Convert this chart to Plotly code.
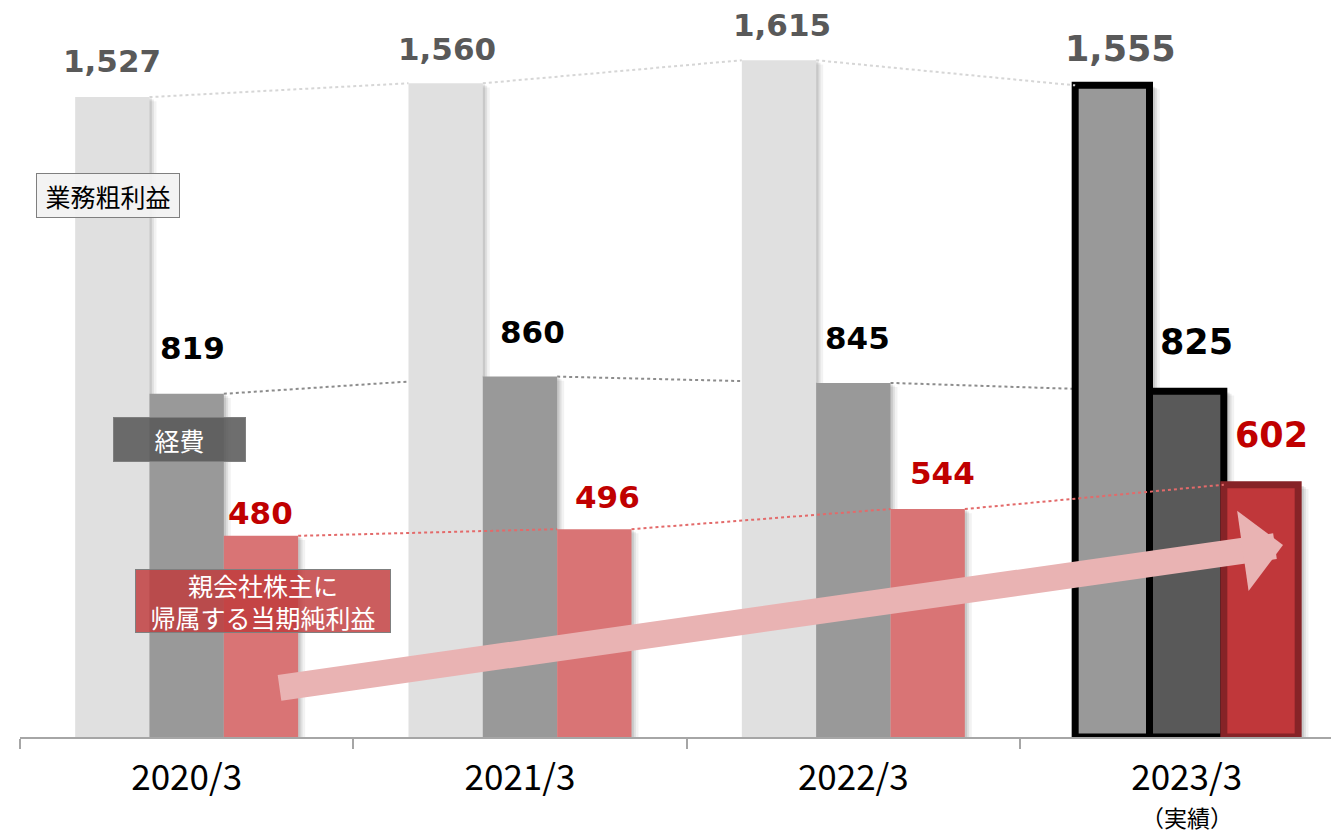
import plotly.graph_objects as go

# data (billions of yen)
categories = ["2020/3", "2021/3", "2022/3", "2023/3"]
gross_profit = [1527, 1560, 1615, 1555]   # 業務粗利益
expenses = [819, 860, 845, 825]           # 経費
net_income = [480, 496, 544, 602]         # 親会社株主に帰属する当期純利益
note_last = "（実績）"

xs = list(range(len(categories)))
W = 0.223          # width of a single bar in category units
Y_MAX = 1711
X_RANGE = [-0.5, 3.457]

# per-bar styles: last year is highlighted
gp_colors = ["#e0e0e0", "#e0e0e0", "#e0e0e0", "#999999"]
ex_colors = ["#999999", "#999999", "#999999", "#595959"]
ni_colors = ["#d97475", "#d97475", "#d97475", "#c0373a"]
edge_w = [0, 0, 0, 7]

fig = go.Figure()

series = [
    (gross_profit, gp_colors, ["#000000"] * 4, -1.5 * W),
    (expenses, ex_colors, ["#000000"] * 4, -0.5 * W),
    (net_income, ni_colors, ["#862327"] * 4, 0.5 * W),
]

# soft drop shadows (base axes, beneath the bars)
for vals, cols, lcols, off in series:
    for dx, dy, alpha in [(0.021, 10, 0.05), (0.013, 6, 0.08), (0.007, 3, 0.10)]:
        extra = [dx + (0.01 if i == 3 else 0) for i in xs]
        fig.add_trace(go.Bar(
            x=xs, y=[v - dy for v in vals], width=W,
            offset=[off + e for e in extra],
            marker=dict(color=f"rgba(0,0,0,{alpha})", line=dict(width=0)),
            showlegend=False, hoverinfo="skip",
        ))

# bars on the overlay axes so the expenses trend line can sit behind them
for vals, cols, lcols, off in series:
    fig.add_trace(go.Bar(
        x=xs, y=vals, width=W, offset=off,
        marker=dict(color=cols, line=dict(color=lcols, width=edge_w)),
        xaxis="x2", yaxis="y2", showlegend=False, hoverinfo="skip",
    ))


def trend(vals, off):
    # connect right edge of bar i with left edge of bar i+1
    tx, ty = [], []
    for i in range(len(vals) - 1):
        tx += [i + off + W, i + 1 + off, None]
        ty += [vals[i], vals[i + 1], None]
    return tx, ty


tx, ty = trend(expenses, -0.5 * W)
fig.add_trace(go.Scatter(x=tx, y=ty, mode="lines", showlegend=False,
                         line=dict(color="#8c8c8c", width=2, dash="dot"),
                         hoverinfo="skip"))
tx, ty = trend(gross_profit, -1.5 * W)
fig.add_trace(go.Scatter(x=tx, y=ty, mode="lines", showlegend=False,
                         line=dict(color="#d6d6d6", width=2, dash="dot"),
                         xaxis="x2", yaxis="y2", hoverinfo="skip"))
tx, ty = trend(net_income, 0.5 * W)
fig.add_trace(go.Scatter(x=tx, y=ty, mode="lines", showlegend=False,
                         line=dict(color="#e36a6a", width=2, dash="dot"),
                         xaxis="x2", yaxis="y2", hoverinfo="skip"))

annotations = []
label_styles = [
    (gross_profit, -W, "#595959", [16, 14, 15, 14], [0, 1, 3, 8]),
    (expenses, 0, "#000000", [26, 25, 25, 27], [6, 12, 4, 10]),
    (net_income, W, "#c00000", [3, 12, 16, 28], [-1, 13, 15, 10]),
]
for vals, off, col, shifts, xsh in label_styles:
    for i, v in enumerate(vals):
        annotations.append(dict(
            x=i + off, y=v, xref="x", yref="y", text=f"{v:,}",
            showarrow=False, yanchor="bottom", yshift=shifts[i], xshift=xsh[i],
            font=dict(family="DejaVu Sans", size=35 if i == 3 else 31,
                      color=col, weight="bold"),
        ))

# "actual" note under the last category
annotations.append(dict(
    x=xs[-1], y=0, xref="x", yref="y", text=note_last, showarrow=False,
    yanchor="middle", yshift=-80,
    font=dict(family="Noto Sans CJK JP", size=23, color="#000000"),
))

# growth arrow
annotations.append(dict(
    x=3.289, y=458, ax=0.274, ay=117, xref="x", yref="y", axref="x", ayref="y",
    text="", showarrow=True, arrowhead=1, arrowsize=0.52, arrowwidth=26,
    arrowcolor="#e9b3b3",
))

# series name boxes
box_font = "Noto Sans CJK JP"
annotations.append(dict(
    x=-0.236, y=1293, xref="x", yref="y", text="業務粗利益", showarrow=False,
    font=dict(family=box_font, size=25, color="#000000"),
    bgcolor="rgba(242,242,242,0.92)", bordercolor="#7f7f7f", borderwidth=1,
    width=136, height=37, borderpad=3,
))
annotations.append(dict(
    x=-0.0215, y=709, xref="x", yref="y", text="経費", showarrow=False,
    font=dict(family=box_font, size=25, color="#ffffff"),
    bgcolor="rgba(88,88,88,0.87)", bordercolor="#7f7f7f", borderwidth=1,
    width=125, height=37, borderpad=3,
))
annotations.append(dict(
    x=0.2275, y=324, xref="x", yref="y",
    text="親会社株主に<br>帰属する当期純利益", showarrow=False,
    font=dict(family=box_font, size=25, color="#ffffff"),
    bgcolor="rgba(192,57,59,0.82)", bordercolor="#7f7f7f", borderwidth=1,
    width=252, height=60, borderpad=1,
))

# page body has an 8px margin, so the figure is 8px smaller and margins compensate
fig.update_layout(
    width=1331, height=825,
    margin=dict(l=12, r=0, t=12, b=96),
    paper_bgcolor="white", plot_bgcolor="white",
    barmode="overlay",
    annotations=annotations,
    xaxis=dict(
        range=X_RANGE, tickvals=xs, ticktext=categories, ticks="",
        showline=True, linecolor="#a6a6a6", linewidth=1.5,
        showgrid=False, zeroline=False, ticklabelstandoff=9, automargin=False,
        tickfont=dict(family="Noto Sans CJK JP", size=35, color="#000000"),
        minor=dict(ticks="outside", tick0=-0.5, dtick=1, ticklen=10,
                   tickcolor="#a6a6a6", tickwidth=1.5, showgrid=False),
    ),
    yaxis=dict(range=[0, Y_MAX], visible=False, automargin=False),
    xaxis2=dict(range=X_RANGE, overlaying="x", visible=False),
    yaxis2=dict(range=[0, Y_MAX], overlaying="y", visible=False),
)

fig.write_html("out.html")
